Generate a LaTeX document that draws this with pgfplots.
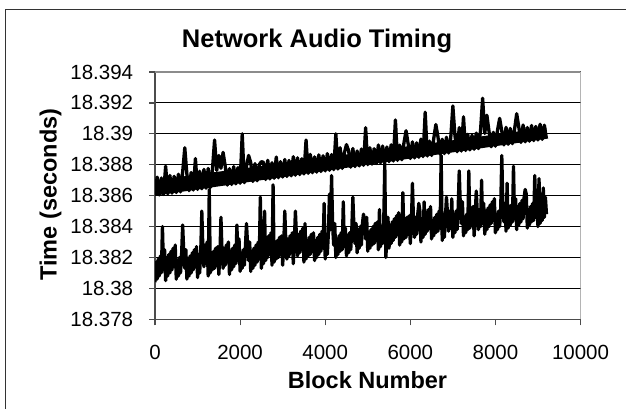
\documentclass[border=0pt]{standalone}
\usepackage{fontspec}
\setmainfont{Liberation Sans}
\usepackage{pgfplots}
\pgfplotsset{compat=1.18}
\begin{document}
\begin{tikzpicture}[x=1pt,y=1pt]
\useasboundingbox (0,0) rectangle (626,409);
\begin{scope}
\clip (0,0) rectangle (626,409);
\draw[line width=1.4pt, black!80] (5.7,-20) -- (5.7,399.2) -- (650,399.2);
\end{scope}
\begin{axis}[
  at={(155pt,89.7pt)}, anchor=south west,
  scale only axis, width=425.5pt, height=247.3pt,
  xmin=0, xmax=10000, ymin=18.378, ymax=18.394,
  scaled ticks=false,
  axis lines=left,
  axis line style={-, line width=1.2pt, color=black!70},
  xtick={0,2000,4000,6000,8000,10000},
  xticklabels={0,2000,4000,6000,8000,10000},
  ytick={18.378,18.38,18.382,18.384,18.386,18.388,18.39,18.392,18.394},
  yticklabels={18.378,18.38,18.382,18.384,18.386,18.388,18.39,18.392,18.394},
  tick align=outside,
  major tick length=6pt,
  tick style={line width=1.2pt, color=black!70},
  ymajorgrids,
  grid style={line width=1pt, black},
  ticklabel style={font=\fontsize{20.5}{24}\selectfont, inner sep=0pt},
  xticklabel style={anchor=north, yshift=-20pt},
  yticklabel style={anchor=east, xshift=-15.7pt},
]
% upper series: dense band core
\addplot[fill=black, draw=none, forget plot] coordinates {(0,18.3860) (9200,18.38968) (9200,18.3904) (0,18.3870)};
% upper series
\addplot[black, line width=3.3pt, line join=round] coordinates {
(0,18.3860) (50,18.3872) (100,18.38604) (150,18.38714) (200,18.38608) (250,18.3879) (300,18.38612) (350,18.38731) (400,18.38616) (450,18.38725) (500,18.3862) (550,18.38739) (600,18.38624) (650,18.38753) (700,18.3891) (750,18.38737) (800,18.38632) (850,18.3875) (900,18.38636) (950,18.3884)
(1000,18.3864) (1050,18.38758) (1100,18.38644) (1150,18.3877) (1200,18.38648) (1250,18.38776) (1300,18.38652) (1350,18.38769) (1400,18.3896) (1450,18.38763) (1500,18.3886) (1550,18.38777) (1600,18.3888) (1650,18.38791) (1700,18.38668) (1750,18.38775) (1800,18.38672) (1850,18.38788) (1900,18.38676) (1950,18.38782)
(2000,18.3868) (2050,18.3900) (2100,18.38684) (2150,18.3879) (2200,18.3886) (2250,18.38814) (2300,18.38692) (2350,18.38807) (2400,18.38696) (2450,18.38801) (2500,18.3882) (2550,18.38815) (2600,18.38704) (2650,18.38829) (2700,18.38708) (2750,18.38813) (2800,18.38712) (2850,18.3885) (2900,18.38716) (2950,18.3882)
(3000,18.3872) (3050,18.38834) (3100,18.38724) (3150,18.38828) (3200,18.38728) (3250,18.38852) (3300,18.38732) (3350,18.38845) (3400,18.38736) (3450,18.38839) (3500,18.3874) (3550,18.3896) (3600,18.38744) (3650,18.38867) (3700,18.38748) (3750,18.38851) (3800,18.38752) (3850,18.38864) (3900,18.38756) (3950,18.38858)
(4000,18.3876) (4050,18.38872) (4100,18.38764) (4150,18.38866) (4200,18.38768) (4250,18.3900) (4300,18.38772) (4350,18.3891) (4400,18.38776) (4450,18.38877) (4500,18.3893) (4550,18.38891) (4600,18.38784) (4650,18.38905) (4700,18.38788) (4750,18.38889) (4800,18.38792) (4850,18.38902) (4900,18.38796) (4950,18.3904)
(5000,18.3880) (5050,18.3891) (5100,18.38804) (5150,18.38904) (5200,18.38808) (5250,18.38928) (5300,18.38812) (5350,18.38921) (5400,18.38816) (5450,18.38915) (5500,18.3882) (5550,18.38929) (5600,18.38824) (5650,18.3909) (5700,18.38828) (5750,18.38927) (5800,18.38832) (5850,18.3894) (5900,18.3902) (5950,18.38934)
(6000,18.3884) (6050,18.38948) (6100,18.38844) (6150,18.38942) (6200,18.38848) (6250,18.38966) (6300,18.38852) (6350,18.3914) (6400,18.38856) (6450,18.38953) (6500,18.3886) (6550,18.38967) (6600,18.3906) (6650,18.38981) (6700,18.38868) (6750,18.38965) (6800,18.38872) (6850,18.38978) (6900,18.38876) (6950,18.38972)
(7000,18.3918) (7050,18.38986) (7100,18.38884) (7150,18.3904) (7200,18.38888) (7250,18.3911) (7300,18.38892) (7350,18.38997) (7400,18.38896) (7450,18.38991) (7500,18.3890) (7550,18.39005) (7600,18.38904) (7650,18.39019) (7700,18.3923) (7750,18.39003) (7800,18.3912) (7850,18.39016) (7900,18.38916) (7950,18.3901)
(8000,18.3892) (8050,18.39024) (8100,18.3910) (8150,18.39018) (8200,18.38928) (8250,18.39042) (8300,18.38932) (8350,18.39035) (8400,18.38936) (8450,18.39029) (8500,18.3913) (8550,18.39043) (8600,18.38944) (8650,18.39057) (8700,18.38948) (8750,18.39041) (8800,18.38952) (8850,18.39054) (8900,18.38956) (8950,18.39048)
(9000,18.3896) (9050,18.39062) (9100,18.38964) (9150,18.39056) (9200,18.38968)
};
% lower series
\addplot[black, line width=3.3pt, line join=round] coordinates {
(0,18.3804) (25,18.3817) (50,18.3806) (75,18.3819) (100,18.3808) (125,18.3821) (150,18.3810) (175,18.3840) (200,18.3812) (225,18.3825)
(250,18.3805) (275,18.3820) (300,18.3808) (325,18.3822) (350,18.3810) (375,18.3824) (400,18.3812) (425,18.3826) (450,18.3814) (475,18.3828)
(500,18.3806) (525,18.3818) (550,18.3808) (575,18.3820) (600,18.3810) (625,18.3822) (650,18.3841) (675,18.3824) (700,18.3813) (725,18.3825)
(750,18.3806) (775,18.3819) (800,18.3808) (825,18.3821) (850,18.3810) (875,18.3823) (900,18.3812) (925,18.3825) (950,18.3814) (975,18.3827)
(1000,18.3807) (1025,18.3822) (1050,18.3810) (1075,18.3824) (1100,18.3850) (1125,18.3826) (1150,18.3814) (1175,18.3828) (1200,18.3816) (1225,18.3830)
(1250,18.3808) (1275,18.3864) (1300,18.3810) (1325,18.3822) (1350,18.3812) (1375,18.3824) (1400,18.3813) (1425,18.3826) (1450,18.3815) (1475,18.3827)
(1500,18.3809) (1525,18.3822) (1550,18.3846) (1575,18.3824) (1600,18.3813) (1625,18.3826) (1650,18.3815) (1675,18.3828) (1700,18.3817) (1725,18.3830)
(1750,18.3809) (1775,18.3824) (1800,18.3812) (1825,18.3826) (1850,18.3814) (1875,18.3828) (1900,18.3816) (1925,18.3841) (1950,18.3818) (1975,18.3832)
(2000,18.3811) (2025,18.3823) (2050,18.3813) (2075,18.3825) (2100,18.3815) (2125,18.3827) (2150,18.3842) (2175,18.3829) (2200,18.3818) (2225,18.3830)
(2250,18.3811) (2275,18.3824) (2300,18.3813) (2325,18.3826) (2350,18.3815) (2375,18.3828) (2400,18.3817) (2425,18.3830) (2450,18.3819) (2475,18.3859)
(2500,18.3813) (2525,18.3828) (2550,18.3816) (2575,18.3850) (2600,18.3818) (2625,18.3832) (2650,18.3820) (2675,18.3834) (2700,18.3822) (2725,18.3836)
(2750,18.3815) (2775,18.3867) (2800,18.3817) (2825,18.3829) (2850,18.3819) (2875,18.3831) (2900,18.3820) (2925,18.3833) (2950,18.3822) (2975,18.3834)
(3000,18.3815) (3025,18.3828) (3050,18.3850) (3075,18.3830) (3100,18.3819) (3125,18.3832) (3150,18.3821) (3175,18.3834) (3200,18.3823) (3225,18.3836)
(3250,18.3816) (3275,18.3831) (3300,18.3850) (3325,18.3833) (3350,18.3821) (3375,18.3835) (3400,18.3823) (3425,18.3837) (3450,18.3825) (3475,18.3839)
(3500,18.3817) (3525,18.3842) (3550,18.3819) (3575,18.3831) (3600,18.3821) (3625,18.3833) (3650,18.3822) (3675,18.3835) (3700,18.3824) (3725,18.3836)
(3750,18.3818) (3775,18.3831) (3800,18.3820) (3825,18.3833) (3850,18.3822) (3875,18.3835) (3900,18.3824) (3925,18.3837) (3950,18.3826) (3975,18.3855)
(4000,18.3819) (4025,18.3834) (4050,18.3822) (4075,18.3836) (4100,18.3861) (4125,18.3838) (4150,18.3873) (4175,18.3840) (4200,18.3828) (4225,18.3842)
(4250,18.3820) (4275,18.3832) (4300,18.3822) (4325,18.3834) (4350,18.3824) (4375,18.3836) (4400,18.3825) (4425,18.3856) (4450,18.3827) (4475,18.3839)
(4500,18.3821) (4525,18.3834) (4550,18.3823) (4575,18.3836) (4600,18.3825) (4625,18.3838) (4650,18.3859) (4675,18.3840) (4700,18.3829) (4725,18.3842)
(4750,18.3823) (4775,18.3838) (4800,18.3826) (4825,18.3840) (4850,18.3828) (4875,18.3842) (4900,18.3848) (4925,18.3844) (4950,18.3832) (4975,18.3846)
(5000,18.3824) (5025,18.3836) (5050,18.3826) (5075,18.3838) (5100,18.3828) (5125,18.3840) (5150,18.3829) (5175,18.3842) (5200,18.3831) (5225,18.3843)
(5250,18.3825) (5275,18.3851) (5300,18.3827) (5325,18.3840) (5350,18.3829) (5375,18.3842) (5400,18.3881) (5425,18.3820) (5450,18.3833) (5475,18.3846)
(5500,18.3826) (5525,18.3841) (5550,18.3829) (5575,18.3843) (5600,18.3831) (5625,18.3845) (5650,18.3833) (5675,18.3847) (5700,18.3835) (5725,18.3849)
(5750,18.3828) (5775,18.3840) (5800,18.3830) (5825,18.3862) (5850,18.3832) (5875,18.3844) (5900,18.3833) (5925,18.3846) (5950,18.3835) (5975,18.3847)
(6000,18.3829) (6025,18.3842) (6050,18.3868) (6075,18.3844) (6100,18.3833) (6125,18.3846) (6150,18.3835) (6175,18.3848) (6200,18.3855) (6225,18.3850)
(6250,18.3830) (6275,18.3845) (6300,18.3833) (6325,18.3856) (6350,18.3835) (6375,18.3849) (6400,18.3837) (6425,18.3851) (6450,18.3839) (6475,18.3853)
(6500,18.3832) (6525,18.3844) (6550,18.3834) (6575,18.3846) (6600,18.3836) (6625,18.3848) (6650,18.3837) (6675,18.3850) (6700,18.3839) (6725,18.3886)
(6750,18.3831) (6775,18.3844) (6800,18.3833) (6825,18.3846) (6850,18.3859) (6875,18.3848) (6900,18.3837) (6925,18.3850) (6950,18.3839) (6975,18.3858)
(7000,18.3833) (7025,18.3848) (7050,18.3836) (7075,18.3850) (7100,18.3838) (7125,18.3852) (7150,18.3876) (7175,18.3854) (7200,18.3842) (7225,18.3856)
(7250,18.3834) (7275,18.3846) (7300,18.3836) (7325,18.3848) (7350,18.3838) (7375,18.3876) (7400,18.3839) (7425,18.3852) (7450,18.3841) (7475,18.3853)
(7500,18.3834) (7525,18.3847) (7550,18.3863) (7575,18.3849) (7600,18.3838) (7625,18.3851) (7650,18.3840) (7675,18.3870) (7700,18.3842) (7725,18.3855)
(7750,18.3835) (7775,18.3850) (7800,18.3838) (7825,18.3852) (7850,18.3840) (7875,18.3854) (7900,18.3842) (7925,18.3856) (7950,18.3844) (7975,18.3858)
(8000,18.3836) (8025,18.3848) (8050,18.3838) (8075,18.3850) (8100,18.3840) (8125,18.3852) (8150,18.3886) (8175,18.3854) (8200,18.3843) (8225,18.3855)
(8250,18.3837) (8275,18.3868) (8300,18.3839) (8325,18.3852) (8350,18.3841) (8375,18.3854) (8400,18.3843) (8425,18.3879) (8450,18.3845) (8475,18.3858)
(8500,18.3838) (8525,18.3853) (8550,18.3841) (8575,18.3855) (8600,18.3843) (8625,18.3857) (8650,18.3845) (8675,18.3859) (8700,18.3864) (8725,18.3861)
(8750,18.3839) (8775,18.3851) (8800,18.3841) (8825,18.3853) (8850,18.3843) (8875,18.3855) (8900,18.3844) (8925,18.3873) (8950,18.3846) (8975,18.3858)
(9000,18.3840) (9025,18.3871) (9050,18.3842) (9075,18.3855) (9100,18.3844) (9125,18.3865) (9150,18.3846) (9175,18.3859) (9200,18.3848)
};
\draw[line width=2pt, black!45] (rel axis cs:0,1) -- (rel axis cs:1,1) -- (rel axis cs:1,0);
\end{axis}
\node[anchor=base, font=\bfseries\fontsize{25.5}{30}\selectfont] at (317,361) {Network Audio Timing};
\node[anchor=base, rotate=90, font=\bfseries\fontsize{23.5}{28}\selectfont] at (56.7,214.5) {Time (seconds)};
\node[anchor=base, font=\bfseries\fontsize{23.5}{28}\selectfont] at (367.5,20.7) {Block Number};
\end{tikzpicture}
\end{document}
